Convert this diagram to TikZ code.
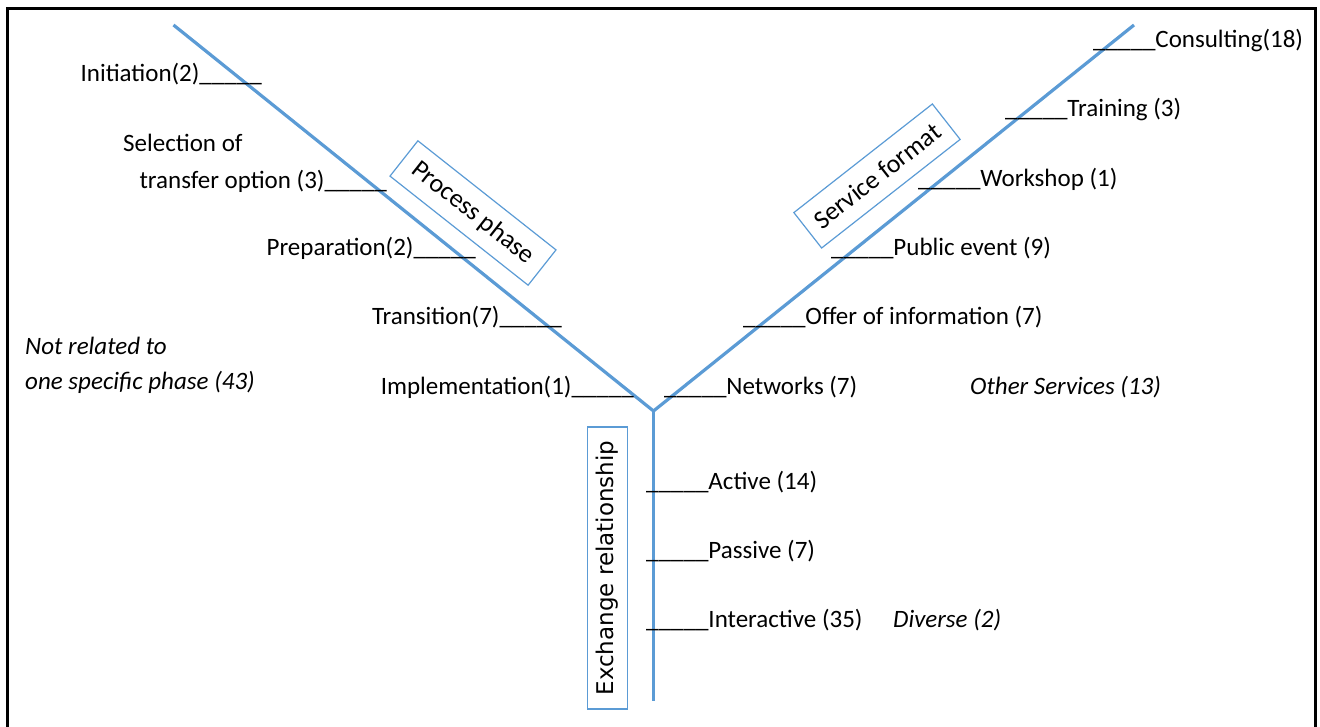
\documentclass[tikz,border=0pt]{standalone}
\usepackage{fontspec}
\setmainfont{Carlito}
\newfontfamily\verd{DejaVu Sans}
\definecolor{ob}{HTML}{5B9BD5}
\begin{document}
\begin{tikzpicture}[x=1pt,y=-1pt,
  lab/.style={inner sep=0pt,font=\fontsize{25}{30}\selectfont},
  ital/.style={inner sep=0pt,font=\fontsize{25}{35.5}\selectfont\itshape},
  axis/.style={draw=ob,line width=3.2pt},
  cat/.style={draw=ob,line width=1.2pt,inner sep=0pt,minimum width=176pt,minimum height=45pt,font=\fontsize{26}{30}\selectfont},
  frame/.style={draw=black,line width=3pt}]
\useasboundingbox (0,0) rectangle (1320,727);
\draw[frame] (7.5,740) -- (7.5,8.5) -- (1315.5,8.5) -- (1315.5,740);
% axes
\coordinate (lt) at (173.5,25);
\coordinate (rt) at (1134,25);
\coordinate (j) at (653.5,411);
\coordinate (bt) at (653.5,701);
\draw[axis,line join=miter] (lt) -- (j) -- (rt);
\draw[axis] (j) -- (bt);
% left labels
\node[lab,anchor=base east] (ini) at (262,82) {Initiation(2)\_\_\_\_\_};
\node[lab,anchor=base west] (sel1) at (123,152) {Selection of};
\node[lab,anchor=base east] (sel2) at (387,189) {transfer option (3)\_\_\_\_\_};
\node[lab,anchor=base east] (prep) at (476,256) {Preparation(2)\_\_\_\_\_};
\node[lab,anchor=base east] (tran) at (562,324) {Transition(7)\_\_\_\_\_};
\node[lab,anchor=base east] (impl) at (634,394) {Implementation(1)\_\_\_\_\_};
\node[ital,anchor=base west,align=left] (notrel) at (25,389.5) {Not related to\\one specific phase (43)};
% right labels
\node[lab,anchor=base west] (cons) at (1093,48) {\_\_\_\_\_Consulting(18)};
\node[lab,anchor=base west] (trai) at (1005,117) {\_\_\_\_\_Training (3)};
\node[lab,anchor=base west] (work) at (918,187) {\_\_\_\_\_Workshop (1)};
\node[lab,anchor=base west] (pub) at (831,256) {\_\_\_\_\_Public event (9)};
\node[lab,anchor=base west] (offer) at (743,325) {\_\_\_\_\_Offer of information (7)};
\node[lab,anchor=base west] (netw) at (664,394) {\_\_\_\_\_Networks (7)};
\node[ital,anchor=base west] (other) at (970,394) {Other Services (13)};
% bottom labels
\node[lab,anchor=base west] (act) at (646,489) {\_\_\_\_\_Active (14)};
\node[lab,anchor=base west] (pas) at (646,558) {\_\_\_\_\_Passive (7)};
\node[lab,anchor=base west] (inter) at (646,627) {\_\_\_\_\_Interactive (35)};
\node[ital,anchor=base west] (div) at (893,627) {Diverse (2)};
% category boxes
\node[cat,rotate=-38.3] (pp) at (473,213) {Process phase};
\node[cat,rotate=38.1] (sf) at (877,176) {Service format};
\node[cat,rotate=90,minimum width=282pt,minimum height=40pt,font=\verd\fontsize{23}{27}\selectfont] (ex) at (607.5,568) {Exchange relationship};
\end{tikzpicture}
\end{document}
